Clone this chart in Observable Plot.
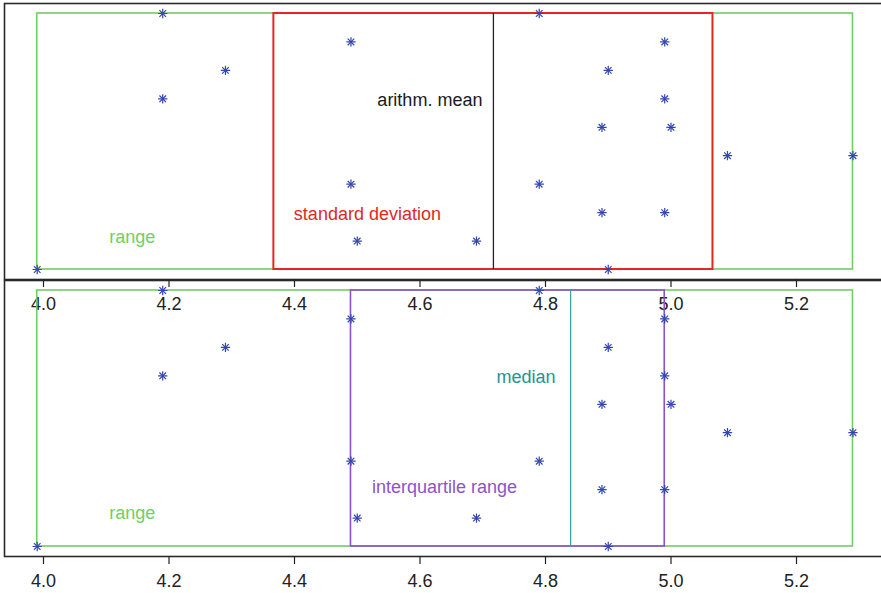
<!DOCTYPE html>
<html>
<head>
<meta charset="utf-8">
<script src="https://cdn.jsdelivr.net/npm/d3@7"></script>
<script src="https://cdn.jsdelivr.net/npm/@observablehq/plot@0.6"></script>
<style>
  body { margin: 0; overflow: hidden; background: #fff; font-family: "Liberation Sans", Arial, sans-serif; }
  #wrap { position: relative; width: 881px; height: 593px; overflow: hidden; }
  #wrap svg { position: absolute; left: 0; background: transparent; max-width: none !important; }
</style>
</head>
<body>
<div id="wrap"></div>
<script>
// Observed values (x) and their vertical stacking level (y, 10 = top row)
const values = [3.99, 4.19, 4.29, 4.19, 4.49, 4.49, 4.50, 4.69, 4.79, 4.79,
                4.99, 4.90, 4.99, 4.89, 5.00, 5.09, 5.29, 4.89, 4.99, 4.90];
const levels = [1, 10, 8, 7, 9, 4, 2, 2, 10, 4,
                9, 8, 7, 6, 6, 5, 5, 3, 3, 1];
const xTicks = [4.0, 4.2, 4.4, 4.6, 4.8, 5.0, 5.2];
const topLabels = ["arithm. mean", "standard deviation", "range"];
const bottomLabels = ["median", "interquartile range", "range"];

const points = values.map((v, i) => ({x: v, y: levels[i]}));

const mean = d3.mean(values);
const sd = d3.deviation(values);
const lo = d3.min(values), hi = d3.max(values);
const med = d3.median(values);
const q1 = d3.quantile(values, 0.25), q3 = d3.quantile(values, 0.75);
const yLo = d3.min(levels), yHi = d3.max(levels);

const GREEN = "#6fcf63", RED = "#e2281f", PURPLE = "#8d52cb", TEAL = "#35a6a3", STAR = "#3346b0";

function starMarks() {
  return [
    Plot.dot(points, {x: "x", y: "y", symbol: "plus", r: 3.1, stroke: STAR, strokeWidth: 1.2}),
    Plot.dot(points, {x: "x", y: "y", symbol: "times", r: 3.1, stroke: STAR, strokeWidth: 1.2})
  ];
}

function panel(marks) {
  return Plot.plot({
    width: 884, height: 316,
    marginLeft: 4, marginRight: 0, marginTop: 3, marginBottom: 37,
    x: {domain: [3.93785, 5.34024]},
    y: {domain: [0.6484, 10.3516], axis: null},
    style: {background: "transparent", maxWidth: "none", fontFamily: "Liberation Sans, Arial, sans-serif", color: "#222", overflow: "visible"},
    marks: [
      Plot.frame({stroke: "#2a2a2a", strokeWidth: 1.6}),
      Plot.axisX({ticks: xTicks, tickSize: 8, tickPadding: 10, fontSize: 18, tickFormat: d => d.toFixed(1), label: null, stroke: "#222", strokeWidth: 1.2}),
      ...marks
    ]
  });
}

const topPanel = panel([
  Plot.rect([0], {x1: () => lo, x2: () => hi, y1: () => yLo, y2: () => yHi, fill: "none", stroke: GREEN, strokeWidth: 1.6}),
  Plot.rect([0], {x1: () => mean - sd, x2: () => mean + sd, y1: () => yLo, y2: () => yHi, fill: "none", stroke: RED, strokeWidth: 2}),
  Plot.ruleX([mean], {x: d => d, y1: yLo, y2: yHi, stroke: "#222", strokeWidth: 1.3}),
  ...starMarks(),
  Plot.text([topLabels[0]], {text: d => d, x: () => mean, y: () => 7, dx: -11, dy: 1, textAnchor: "end", fill: "#1a1a1a", fontSize: 18}),
  Plot.text([topLabels[1]], {text: d => d, x: () => mean - sd, y: () => 3, dx: 20, dy: 2, textAnchor: "start", fill: RED, fontSize: 18}),
  Plot.text([topLabels[2]], {text: d => d, x: () => lo, y: () => 2, dx: 72, dy: -4, textAnchor: "start", fill: GREEN, fontSize: 18})
]);

const bottomPanel = panel([
  Plot.rect([0], {x1: () => lo, x2: () => hi, y1: () => yLo, y2: () => yHi, fill: "none", stroke: GREEN, strokeWidth: 1.6}),
  Plot.rect([0], {x1: () => q1, x2: () => q3, y1: () => yLo, y2: () => yHi, fill: "none", stroke: PURPLE, strokeWidth: 1.6}),
  Plot.ruleX([med], {x: d => d, y1: yLo, y2: yHi, stroke: TEAL, strokeWidth: 1.3}),
  ...starMarks(),
  Plot.text([bottomLabels[0]], {text: d => d, x: () => med, y: () => 7, dx: -15, dy: 1, textAnchor: "end", fill: "#22968f", fontSize: 18}),
  Plot.text([bottomLabels[1]], {text: d => d, x: () => q1, y: () => 3, dx: 21, dy: -2, textAnchor: "start", fill: PURPLE, fontSize: 18}),
  Plot.text([bottomLabels[2]], {text: d => d, x: () => lo, y: () => 2, dx: 72, dy: -5, textAnchor: "start", fill: GREEN, fontSize: 18})
]);

topPanel.style.top = "0px";
bottomPanel.style.top = "277px";
const wrap = document.getElementById("wrap");
wrap.appendChild(topPanel);
wrap.appendChild(bottomPanel);
</script>
</body>
</html>
